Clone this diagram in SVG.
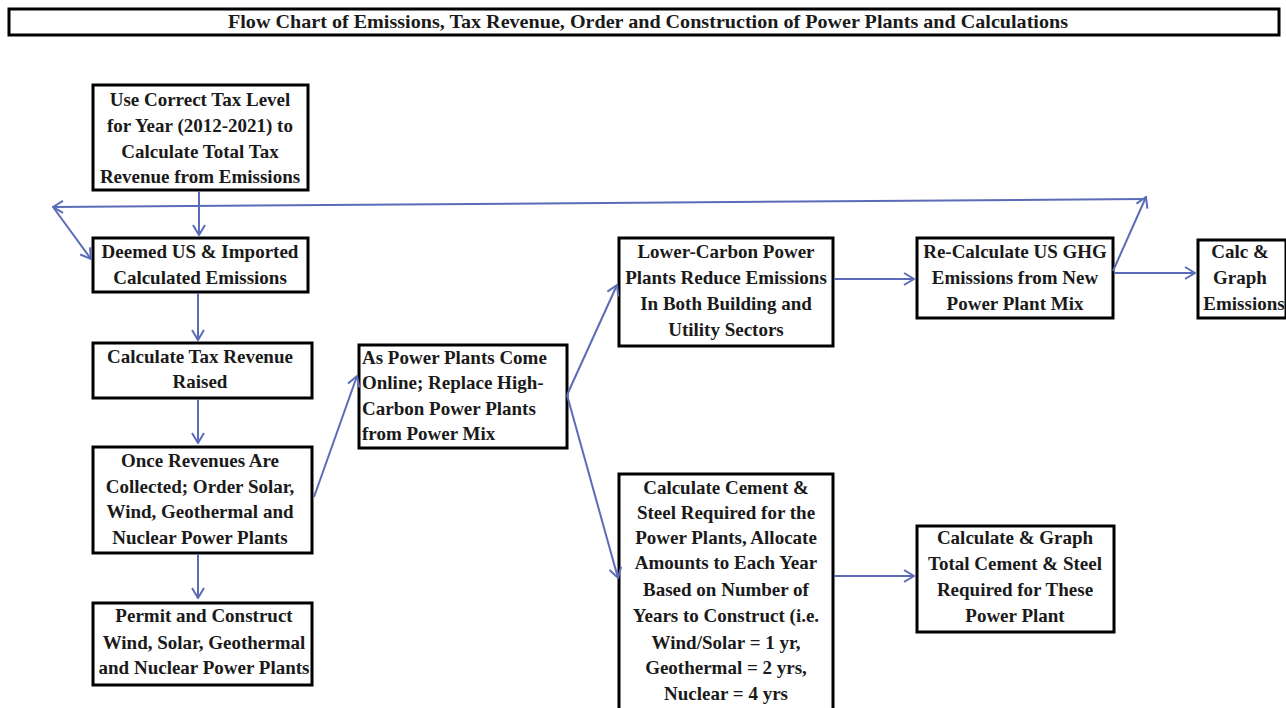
<svg xmlns="http://www.w3.org/2000/svg" width="1286" height="708" viewBox="0 0 1286 708">
<style>
.box{fill:#fff;stroke:#000;stroke-width:3}
.t{font-family:"Liberation Serif","Times New Roman",serif;font-size:19px;font-weight:bold;fill:#1a1a1a;text-anchor:middle}
.l{text-anchor:start}
.c{fill:none;stroke:#5a6cb8;stroke-width:2}
</style>
<defs>
<marker id="ah" markerWidth="12" markerHeight="14" refX="11" refY="7" orient="auto" markerUnits="userSpaceOnUse">
<path d="M1,1 L11,7 L1,13" fill="none" stroke="#5a6cb8" stroke-width="2"/>
</marker>
</defs>
<rect width="1286" height="708" fill="#fff"/>
<g id="title">
<rect class="box" x="9" y="9" width="1270" height="26"/>
<text class="t" x="648" y="28" font-size="18" textLength="840" lengthAdjust="spacingAndGlyphs">Flow Chart of Emissions, Tax Revenue, Order and Construction of Power Plants and Calculations</text>
</g>
<g id="n1">
<rect class="box" x="93" y="85" width="215" height="105"/>
<text class="t" x="200" y="106">Use Correct Tax Level</text>
<text class="t" x="200" y="132">for Year (2012-2021) to</text>
<text class="t" x="200" y="158">Calculate Total Tax</text>
<text class="t" x="200" y="183">Revenue from Emissions</text>
</g>
<g id="n2">
<rect class="box" x="93" y="238" width="215" height="54"/>
<text class="t" x="200" y="258">Deemed US &amp; Imported</text>
<text class="t" x="200" y="284">Calculated Emissions</text>
</g>
<g id="n3">
<rect class="box" x="93" y="343" width="219" height="55"/>
<text class="t" x="200" y="363">Calculate Tax Revenue</text>
<text class="t" x="200" y="388">Raised</text>
</g>
<g id="n4">
<rect class="box" x="93" y="447" width="219" height="106"/>
<text class="t" x="200" y="467">Once Revenues Are</text>
<text class="t" x="200" y="493">Collected; Order Solar,</text>
<text class="t" x="200" y="518">Wind, Geothermal and</text>
<text class="t" x="200" y="544">Nuclear Power Plants</text>
</g>
<g id="n5">
<rect class="box" x="93" y="603" width="219" height="82"/>
<text class="t" x="204" y="622">Permit and Construct</text>
<text class="t" x="204" y="649">Wind, Solar, Geothermal</text>
<text class="t" x="204" y="674">and Nuclear Power Plants</text>
</g>
<g id="n6">
<rect class="box" x="359" y="345" width="208" height="103"/>
<text class="t l" x="362" y="364">As Power Plants Come</text>
<text class="t l" x="362" y="389">Online; Replace High-</text>
<text class="t l" x="362" y="415">Carbon Power Plants</text>
<text class="t l" x="362" y="440">from Power Mix</text>
</g>
<g id="n7">
<rect class="box" x="619" y="238" width="214" height="108"/>
<text class="t" x="726" y="258">Lower-Carbon Power</text>
<text class="t" x="726" y="284">Plants Reduce Emissions</text>
<text class="t" x="726" y="310">In Both Building and</text>
<text class="t" x="726" y="336">Utility Sectors</text>
</g>
<g id="n8">
<rect class="box" x="917" y="238" width="196" height="80"/>
<text class="t" x="1015" y="258">Re-Calculate US GHG</text>
<text class="t" x="1015" y="284">Emissions from New</text>
<text class="t" x="1015" y="310">Power Plant Mix</text>
</g>
<g id="n9">
<rect class="box" x="1198" y="240" width="88" height="78"/>
<text class="t" x="1240" y="258">Calc &amp;</text>
<text class="t" x="1240" y="284">Graph</text>
<text class="t" x="1244" y="310">Emissions</text>
</g>
<g id="n10">
<rect class="box" x="619" y="474" width="214" height="240"/>
<text class="t" x="726" y="494">Calculate Cement &amp;</text>
<text class="t" x="726" y="519">Steel Required for the</text>
<text class="t" x="726" y="544">Power Plants, Allocate</text>
<text class="t" x="726" y="569">Amounts to Each Year</text>
<text class="t" x="726" y="596">Based on Number of</text>
<text class="t" x="726" y="622">Years to Construct (i.e.</text>
<text class="t" x="726" y="649">Wind/Solar = 1 yr,</text>
<text class="t" x="726" y="674">Geothermal = 2 yrs,</text>
<text class="t" x="726" y="700">Nuclear = 4 yrs</text>
</g>
<g id="n11">
<rect class="box" x="917" y="526" width="197" height="106"/>
<text class="t" x="1015" y="544">Calculate &amp; Graph</text>
<text class="t" x="1015" y="570">Total Cement &amp; Steel</text>
<text class="t" x="1015" y="596">Required for These</text>
<text class="t" x="1015" y="622">Power Plant</text>
</g>
<g id="connectors">
<line class="c" x1="199" y1="191" x2="199" y2="235" marker-end="url(#ah)"/>
<line class="c" x1="198" y1="293" x2="198" y2="340" marker-end="url(#ah)"/>
<line class="c" x1="198" y1="399" x2="198" y2="443" marker-end="url(#ah)"/>
<line class="c" x1="198" y1="554" x2="198" y2="598" marker-end="url(#ah)"/>
<line class="c" x1="314" y1="497" x2="357" y2="376" marker-end="url(#ah)"/>
<line class="c" x1="567" y1="395" x2="617" y2="285" marker-end="url(#ah)"/>
<line class="c" x1="567" y1="395" x2="618" y2="578" marker-end="url(#ah)"/>
<line class="c" x1="834" y1="279" x2="914" y2="279" marker-end="url(#ah)"/>
<line class="c" x1="1114" y1="273" x2="1195" y2="273" marker-end="url(#ah)"/>
<line class="c" x1="1113" y1="271" x2="1146" y2="197" marker-end="url(#ah)"/>
<line class="c" x1="1143" y1="199" x2="53" y2="207" marker-end="url(#ah)"/>
<line class="c" x1="53" y1="207" x2="91" y2="259" marker-end="url(#ah)"/>
<line class="c" x1="834" y1="576" x2="914" y2="576" marker-end="url(#ah)"/>
</g>
</svg>
